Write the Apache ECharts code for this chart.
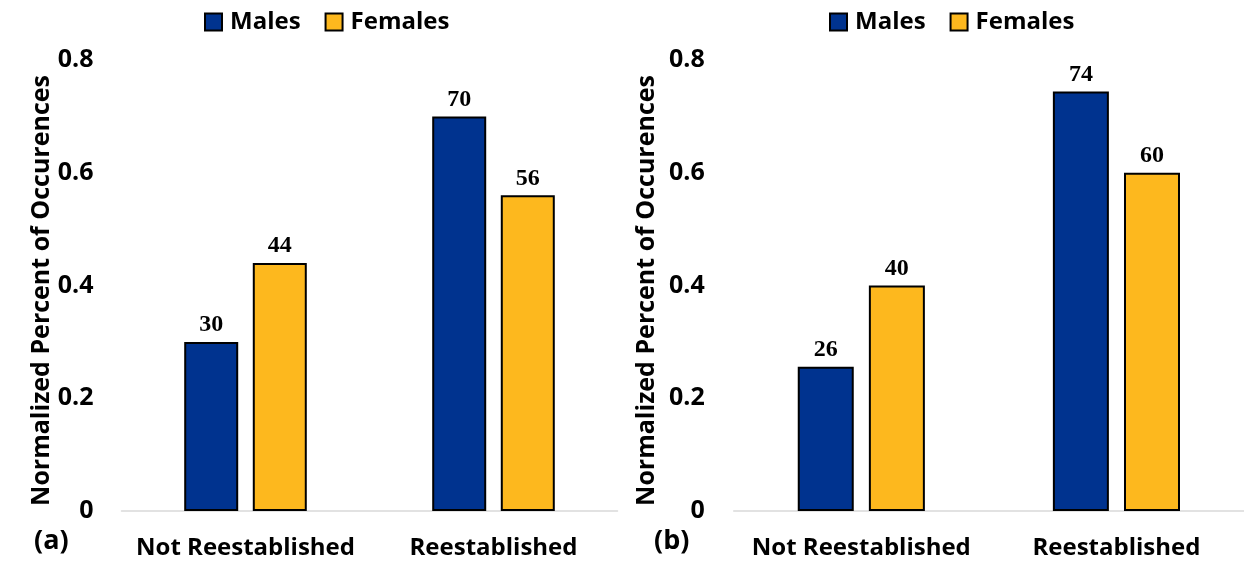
<!DOCTYPE html>
<html>
<head>
<meta charset="utf-8">
<script src="https://cdn.jsdelivr.net/npm/echarts@6/dist/echarts.min.js"></script>
<style>
html,body{margin:0;padding:0;background:#fff;}
#c{width:1244px;height:565px;}
</style>
</head>
<body>
<div id="c"></div>
<script>
const categories = ['Not Reestablished', 'Reestablished'];
const malesA = [0.30, 0.70];
const femalesA = [0.44, 0.56];
const malesB = [0.256, 0.744];
const femalesB = [0.40, 0.60];
const yTicks = [0, 0.2, 0.4, 0.6, 0.8];
const yTitle = 'Normalized Percent of Occurences';
const panelTags = ['(a)', '(b)'];

const BLUE = '#00338F';
const GOLD = '#FDB81E';
const FONT = 'Open Sans';

const chart = echarts.init(document.getElementById('c'), null, {renderer: 'canvas'});

function yAxis(gridIndex, margin, gap) {
  return {
    type: 'value', gridIndex: gridIndex, min: yTicks[0], max: yTicks[yTicks.length - 1], interval: 0.2,
    splitLine: {show: false}, axisLine: {show: false}, axisTick: {show: false},
    axisLabel: {
      margin: margin, color: '#000', fontFamily: FONT, fontWeight: 'bold', fontSize: 25,
      formatter: function (v) { return v === 0 ? '0' : v.toFixed(1); }
    },
    name: yTitle, nameLocation: 'middle', nameRotate: 90, nameGap: gap,
    nameTextStyle: {color: '#000', fontFamily: FONT, fontWeight: 'bold', fontSize: 25, padding: [0, 10, 0, 0]}
  };
}
function xAxis(gridIndex) {
  return {
    type: 'category', gridIndex: gridIndex, data: categories,
    axisLine: {lineStyle: {color: '#d9d9d9', width: 1.5}},
    axisTick: {show: false},
    axisLabel: {interval: 0, margin: 25, color: '#000', fontFamily: FONT, fontWeight: 'bold', fontSize: 24}
  };
}
function barSeries(name, data, color, xi, bw) {
  return {
    type: 'bar', name: name, data: data, xAxisIndex: xi, yAxisIndex: xi,
    barWidth: bw, barGap: '27%',
    itemStyle: {color: color, borderColor: '#000', borderWidth: 2},
    label: {
      show: true, position: 'top', distance: 5, color: '#000',
      fontFamily: 'Liberation Serif', fontWeight: 'bold', fontSize: 24,
      formatter: function (p) { return Math.round(p.value * 100); }
    }
  };
}
function legend(left) {
  return {
    left: left, top: 5, itemWidth: 17, itemHeight: 17, itemGap: 24, icon: 'rect',
    data: ['Males', 'Females'],
    textStyle: {color: '#000', fontFamily: FONT, fontWeight: 'bold', fontSize: 24, padding: [0, 0, 0, 3]}
  };
}

chart.setOption({
  animation: false,
  backgroundColor: '#fff',
  legend: [legend(199), legend(824)],
  grid: [
    {left: 121.5, width: 496, top: 60, bottom: 54},
    {left: 733.75, width: 513, top: 60, bottom: 54}
  ],
  xAxis: [xAxis(0), xAxis(1)],
  yAxis: [yAxis(0, 28, 64), yAxis(1, 29, 74)],
  series: [
    barSeries('Males', malesA, BLUE, 0, 54),
    barSeries('Females', femalesA, GOLD, 0, 54),
    barSeries('Males', malesB, BLUE, 1, 56),
    barSeries('Females', femalesB, GOLD, 1, 56)
  ],
  graphic: [
    {type: 'text', left: 34, top: 528, style: {text: panelTags[0], fill: '#000', font: 'bold 27px "Open Sans"'}},
    {type: 'text', left: 654, top: 528, style: {text: panelTags[1], fill: '#000', font: 'bold 27px "Open Sans"'}}
  ]
});
</script>
</body>
</html>
